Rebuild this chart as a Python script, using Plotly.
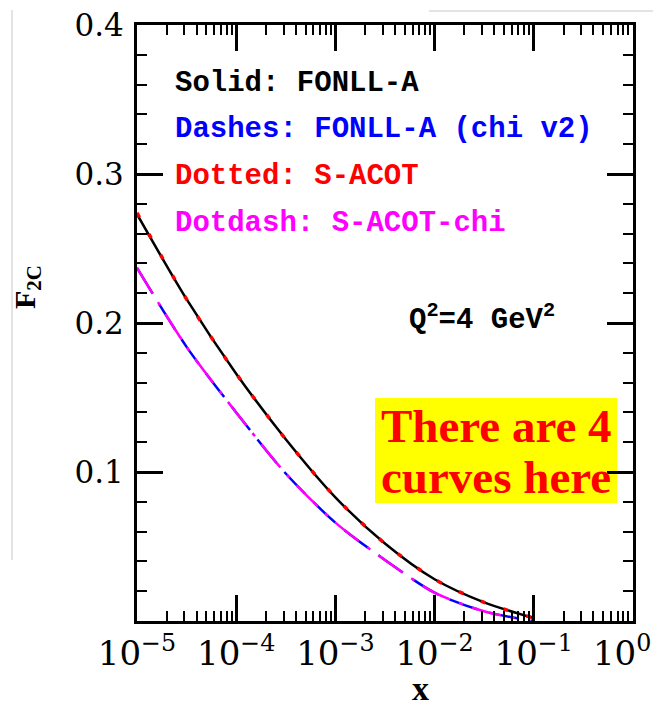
import plotly.graph_objects as go

# ---- data ----
x_black = [1e-5, 3.16e-5, 1e-4, 3.16e-4, 1e-3, 3.16e-3, 1e-2, 3.16e-2, 1e-1]
fonll_a = [0.273, 0.216, 0.166, 0.122, 0.083, 0.052, 0.028, 0.0125, 0.002]
s_acot = [0.274, 0.216, 0.166, 0.122, 0.083, 0.052, 0.028, 0.0125, 0.002]

x_blue = [1e-5, 3.16e-5, 1e-4, 3.16e-4, 1e-3, 3.16e-3, 1e-2, 3.16e-2, 1e-1]
fonll_a_chi = [0.237, 0.184, 0.140, 0.099, 0.066, 0.041, 0.019, 0.0065, 0.0]

x_mag = [1e-5, 3.16e-5, 1e-4, 3.16e-4, 1e-3, 3.16e-3, 1e-2, 3.16e-2, 7.6e-2]
s_acot_chi = [0.237, 0.184, 0.140, 0.099, 0.066, 0.041, 0.019, 0.0065, 0.001]

x_tickvals = [1e-5, 1e-4, 1e-3, 1e-2, 1e-1, 1]
x_ticktext = ["10<sup>\u22125</sup>", "10<sup>\u22124</sup>", "10<sup>\u22123</sup>",
              "10<sup>\u22122</sup>", "10<sup>\u22121</sup>", "10<sup>0</sup>\u00a0\u00a0"]
y_tickvals = [0.1, 0.2, 0.3, 0.4]
y_ticktext = ["0.1", "0.2", "0.3", "0.4"]

legend_lines = ["Solid: FONLL-A", "Dashes: FONLL-A (chi v2)", "Dotted: S-ACOT", "Dotdash: S-ACOT-chi"]
legend_colors = ["black", "#0000ff", "#ff0000", "#ff00ff"]

# ---- layout geometry (pixels) ----
W, H = 653, 708
L, R, T, B = 137, 633, 25, 621


def px(v):
    return (v - L) / (R - L)


def py(v):
    return (B - v) / (B - T)


fig = go.Figure()
fig.add_trace(go.Scatter(x=x_black, y=fonll_a, mode="lines", line=dict(color="black", width=2.5, shape="spline", smoothing=0.8)))
fig.add_trace(go.Scatter(x=x_black, y=s_acot, mode="lines", line=dict(color="#ff0000", width=3.5, dash="5px,19px", shape="spline", smoothing=0.8)))
fig.add_trace(go.Scatter(x=x_blue, y=fonll_a_chi, mode="lines", line=dict(color="#0000ff", width=2.5, dash="30px,12px", shape="spline", smoothing=0.8)))
fig.add_trace(go.Scatter(x=x_mag, y=s_acot_chi, mode="lines", line=dict(color="#ff00ff", width=2.5, dash="30px,10px,4px,10px", shape="spline", smoothing=0.8)))

minor_x = [m * 10.0 ** e for e in range(-5, 0) for m in range(2, 10)]

fig.update_xaxes(
    type="log", range=[-5, 0.0005], showline=True, linewidth=3, linecolor="black", mirror="allticks",
    ticks="inside", ticklen=26, tickwidth=2.5, tickcolor="black",
    tickmode="array", tickvals=x_tickvals, ticktext=x_ticktext,
    tickfont=dict(family="DejaVu Serif", size=34, color="black"),
    showgrid=False, zeroline=False, automargin=False, ticklabeloverflow="allow",
    minor=dict(tickmode="array", tickvals=minor_x, ticks="inside", ticklen=10, tickwidth=2, tickcolor="black", showgrid=False),
)
fig.update_yaxes(
    range=[0, 0.4], showline=True, linewidth=3, linecolor="black", mirror="allticks",
    ticks="inside", ticklen=26, tickwidth=2.5, tickcolor="black",
    tickmode="array", tickvals=y_tickvals, ticktext=y_ticktext,
    tickfont=dict(family="DejaVu Serif", size=31, color="black"),
    showgrid=False, zeroline=False, automargin=False, ticklabelstandoff=4,
    minor=dict(dtick=0.02, tick0=0, ticks="inside", ticklen=10, tickwidth=2, tickcolor="black", showgrid=False),
)

annotations = []
for i, (txt, col) in enumerate(zip(legend_lines, legend_colors)):
    yc = [83.5, 129.5, 176.5, 223.5][i]
    annotations.append(dict(x=px(173), y=py(yc), xref="paper", yref="paper", xanchor="left", yanchor="middle",
                            text="<b>" + txt + "</b>", showarrow=False,
                            font=dict(family="Liberation Mono", size=29, color=col)))
annotations.append(dict(x=px(407), y=py(318), xref="paper", yref="paper", xanchor="left", yanchor="middle",
                        text="<b>Q<sup>2</sup>=4 GeV<sup>2</sup></b>", showarrow=False,
                        font=dict(family="Liberation Mono", size=29, color="black")))
annotations.append(dict(x=px(496), y=py(426), xref="paper", yref="paper", xanchor="center", yanchor="middle",
                        text="<b>There are 4</b>", showarrow=False,
                        font=dict(family="Liberation Serif", size=47, color="#ff0000")))
annotations.append(dict(x=px(496), y=py(477), xref="paper", yref="paper", xanchor="center", yanchor="middle",
                        text="<b>curves here</b>", showarrow=False,
                        font=dict(family="Liberation Serif", size=47, color="#ff0000")))
annotations.append(dict(x=px(420), y=py(688), xref="paper", yref="paper", xanchor="center", yanchor="middle",
                        text="<b>x</b>", showarrow=False,
                        font=dict(family="Liberation Serif", size=34, color="black")))
annotations.append(dict(x=px(27), y=py(287), xref="paper", yref="paper", xanchor="center", yanchor="middle",
                        text="<b>F<sub>2C</sub></b>", textangle=-90, showarrow=False,
                        font=dict(family="Liberation Serif", size=30, color="black")))

shapes = [
    dict(type="rect", xref="paper", yref="paper", x0=px(375), x1=px(617), y0=py(503), y1=py(398),
         fillcolor="#ffff00", line=dict(width=0), layer="below"),
    dict(type="line", xref="paper", yref="paper", x0=px(12), x1=px(12), y0=py(10), y1=py(560),
         line=dict(color="#c8c8c8", width=1)),
    dict(type="line", xref="paper", yref="paper", x0=px(429), x1=px(653), y0=py(11), y1=py(11),
         line=dict(color="#c8c8c8", width=1)),
]

fig.update_layout(
    width=W, height=H, autosize=False,
    margin=dict(l=L, r=W - R, t=T, b=H - B, pad=0),
    paper_bgcolor="white", plot_bgcolor="white",
    showlegend=False, annotations=annotations, shapes=shapes,
)

fig.write_html("out.html", config={"displayModeBar": False},
               post_script="document.body.style.margin='0px';document.body.style.overflow='hidden';")
